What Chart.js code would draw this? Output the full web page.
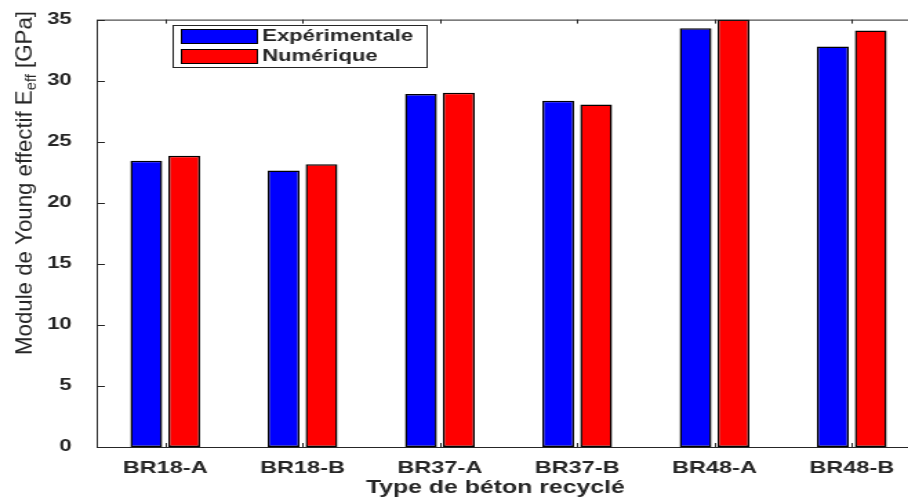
<!DOCTYPE html>
<html lang="fr">
<head>
<meta charset="utf-8">
<title>Module de Young effectif</title>
<script src="https://cdn.jsdelivr.net/npm/chart.js@4.4.1/dist/chart.umd.min.js"></script>
<style>
  html, body { margin: 0; padding: 0; background: #fff; overflow: hidden; }
  /* the reference picture is stretched sideways, so the canvas is too */
  #wrap { width: 680px; height: 500px; transform: scaleX(1.38); transform-origin: 0 0; }
</style>
</head>
<body>
<div id="wrap"><canvas id="chart" width="680" height="500"></canvas></div>
<script>
// Data
const categories = ['BR18-A', 'BR18-B', 'BR37-A', 'BR37-B', 'BR48-A', 'BR48-B'];
const experimentale = [23.45, 22.65, 28.9, 28.35, 34.3, 32.8];
const numerique = [23.85, 23.15, 29.0, 28.05, 35.0, 34.1];
const yTickValues = [0, 5, 10, 15, 20, 25, 30, 35];
const seriesNames = ['Expérimentale', 'Numérique'];
const xTitle = 'Type de béton recyclé';
const yTitleParts = ['Module de Young effectif E', 'eff', ' [GPa]'];

const stretch = 1.38;
const axisColor = '#262626';
const fontFamily = '"Liberation Sans", Arial, Helvetica, sans-serif';

// Box, inner ticks, legend and axis titles drawn MATLAB style
const matlabAxes = {
    id: 'matlabAxes',
    afterDraw(chart) {
        const ctx = chart.ctx;
        const a = chart.chartArea;
        const x = chart.scales.x;
        const y = chart.scales.y;
        ctx.save();
        ctx.strokeStyle = axisColor;
        ctx.lineWidth = 1;
        ctx.strokeRect(a.left + 0.5, a.top + 0.5, a.right - a.left, a.bottom - a.top);

        ctx.beginPath();
        y.ticks.forEach(t => {
            const py = Math.round(y.getPixelForValue(t.value)) + 0.5;
            ctx.moveTo(a.left, py); ctx.lineTo(a.left + 6, py);
            ctx.moveTo(a.right, py); ctx.lineTo(a.right - 6, py);
        });
        categories.forEach((c, i) => {
            const px = Math.round(x.getPixelForValue(i)) + 0.5;
            ctx.moveTo(px, a.bottom); ctx.lineTo(px, a.bottom - 4);
            ctx.moveTo(px, a.top); ctx.lineTo(px, a.top + 4);
        });
        ctx.stroke();

        // legend
        const lx = 125, ly = 25, lw = 184, lh = 42;
        ctx.fillStyle = '#fff';
        ctx.fillRect(lx, ly, lw, lh);
        ctx.strokeRect(lx + 0.5, ly + 0.5, lw, lh);
        ctx.font = 'bold 16px ' + fontFamily;
        ctx.textBaseline = 'middle';
        ctx.textAlign = 'left';
        chart.data.datasets.forEach((ds, i) => {
            const sy = ly + 4 + i * 20;
            ctx.fillStyle = ds.backgroundColor;
            ctx.fillRect(lx + 6, sy, 55, 14);
            ctx.strokeStyle = '#000';
            ctx.strokeRect(lx + 6.5, sy + 0.5, 55, 14);
            ctx.fillStyle = axisColor;
            ctx.fillText(ds.label, lx + 65, sy + 8);
        });

        // x title
        ctx.font = 'bold 18px ' + fontFamily;
        ctx.textAlign = 'center';
        ctx.textBaseline = 'alphabetic';
        ctx.fillText(xTitle, 359, 493);

        // y title with subscript, squeezed along its length to fit the reference
        ctx.translate(22.5, 183);
        ctx.scale(1 / stretch, 1);
        ctx.rotate(-Math.PI / 2);
        const mainFont = '24px ' + fontFamily;
        const subFont = '16px ' + fontFamily;
        ctx.font = mainFont;
        const w0 = ctx.measureText(yTitleParts[0]).width;
        const w2 = ctx.measureText(yTitleParts[2]).width;
        ctx.font = subFont;
        const w1 = ctx.measureText(yTitleParts[1]).width;
        const total = w0 + w1 + w2;
        ctx.scale(344 / total, 1);
        let tx = -total / 2;
        ctx.textAlign = 'left';
        ctx.font = mainFont;
        ctx.fillText(yTitleParts[0], tx, 0);
        tx += w0;
        ctx.font = subFont;
        ctx.fillText(yTitleParts[1], tx, 5);
        tx += w1;
        ctx.font = mainFont;
        ctx.fillText(yTitleParts[2], tx, 0);
        ctx.restore();
    }
};

function initChart() {
    const ctx = document.getElementById('chart').getContext('2d');
    new Chart(ctx, {
        type: 'bar',
        data: {
            labels: categories,
            datasets: [{
                label: seriesNames[0],
                data: experimentale,
                backgroundColor: '#0000ff',
                borderColor: '#000',
                borderWidth: 1.5,
                borderSkipped: false
            }, {
                label: seriesNames[1],
                data: numerique,
                backgroundColor: '#ff0000',
                borderColor: '#000',
                borderWidth: 1.5,
                borderSkipped: false
            }]
        },
        options: {
            responsive: false,
            animation: false,
            devicePixelRatio: 1,
            categoryPercentage: 0.552,
            barPercentage: 0.84,
            layout: { padding: { top: 16, right: 13, bottom: 0, left: 0 } },
            plugins: {
                legend: { display: false },
                tooltip: { enabled: false }
            },
            scales: {
                x: {
                    grid: { display: false },
                    border: { display: false },
                    ticks: {
                        color: axisColor,
                        font: { family: fontFamily, size: 17, weight: 'bold' },
                        padding: 3,
                        maxRotation: 0,
                        autoSkip: false
                    },
                    afterFit(scale) { scale.height = 53; }
                },
                y: {
                    min: 0,
                    max: 35,
                    grid: { display: false },
                    border: { display: false },
                    afterBuildTicks(scale) {
                        scale.ticks = yTickValues.map(v => ({ value: v }));
                    },
                    ticks: {
                        color: axisColor,
                        font: { family: fontFamily, size: 16, weight: 'bold' },
                        padding: 10
                    },
                    afterFit(scale) { scale.width = 70; }
                }
            }
        },
        plugins: [matlabAxes]
    });
}

initChart();
</script>
</body>
</html>
